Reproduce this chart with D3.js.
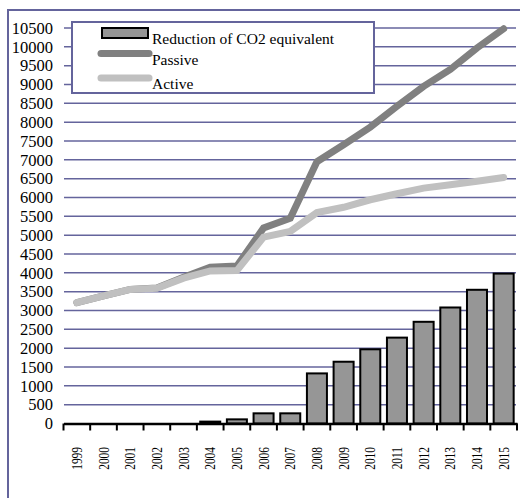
<!DOCTYPE html>
<html>
<head>
<meta charset="utf-8">
<script src="https://cdn.jsdelivr.net/npm/d3@7"></script>
<style>
  body { margin: 0; background: #fff; }
  text { font-family: "Liberation Serif", "Times New Roman", serif; fill: #000; }
</style>
</head>
<body>
<div id="graph"></div>
<script>
var years = ["1999","2000","2001","2002","2003","2004","2005","2006","2007","2008",
             "2009","2010","2011","2012","2013","2014","2015"];
var reduction = [0, 0, 0, 0, 0, 50, 110, 270, 270, 1330, 1640, 1970, 2280, 2700, 3080, 3550, 3980];
var passive = [3210, 3390, 3560, 3600, 3880, 4150, 4180, 5190, 5450, 6950, 7400, 7870, 8420, 8950, 9400, 9970, 10480];
var active = [3210, 3390, 3560, 3590, 3860, 4050, 4060, 4950, 5100, 5600, 5740, 5940, 6100, 6250, 6340, 6430, 6530];
var yTicks = d3.range(0, 10501, 500);
var legendLabels = ["Reduction of CO2 equivalent", "Passive", "Active"];

var W = 520, H = 498;
var frameColor = "#64649c";

var svg = d3.select("#graph").append("svg")
    .attr("width", W)
    .attr("height", H);

// outer frame
svg.append("rect")
    .attr("x", 8).attr("y", 10)
    .attr("width", W).attr("height", H)
    .attr("fill", "none")
    .attr("stroke", frameColor)
    .attr("stroke-width", 2);

var x = d3.scaleBand().domain(years).range([63.5, 517]).paddingInner(0.25).paddingOuter(0.125);
var xc = d3.scaleBand().domain(years).range([63.5, 517]);
var y = d3.scaleLinear().domain([0, 10500]).range([423.5, 28]);

// grid
svg.selectAll("line.grid")
    .data(yTicks.filter(function(d) { return d > 0; }))
    .enter().append("line")
    .attr("class", "grid")
    .attr("x1", 64).attr("x2", 516)
    .attr("y1", function(d) { return y(d); })
    .attr("y2", function(d) { return y(d); })
    .attr("stroke", frameColor)
    .attr("stroke-width", 1.5);

// y labels
svg.selectAll("text.ylab")
    .data(yTicks)
    .enter().append("text")
    .attr("class", "ylab")
    .attr("x", 53)
    .attr("y", function(d) { return y(d); })
    .attr("dy", "0.35em")
    .attr("text-anchor", "end")
    .style("font-size", "16.5px")
    .text(function(d) { return d; });

// bars
svg.selectAll(".bar")
    .data(years)
    .enter().append("rect")
    .attr("class", "bar")
    .attr("x", function(d) { return x(d); })
    .attr("width", x.bandwidth())
    .attr("y", function(d, i) { return y(reduction[i]); })
    .attr("height", function(d, i) { return y(0) - y(reduction[i]); })
    .attr("fill", "#969696")
    .attr("stroke", "#000")
    .attr("stroke-width", 2);

// x axis
var xAxis = d3.axisBottom(xc).tickSize(0).tickFormat("");
var gx = svg.append("g")
    .attr("transform", "translate(0," + y(0) + ")")
    .call(xAxis);
gx.select(".domain").attr("stroke", "#000").attr("stroke-width", 2.5);
gx.selectAll(".tick").remove();

svg.selectAll("line.xtick")
    .data(years.concat(["end"]))
    .enter().append("line")
    .attr("class", "xtick")
    .attr("x1", function(d, i) { return i < years.length ? xc(d) : xc.range()[1]; })
    .attr("x2", function(d, i) { return i < years.length ? xc(d) : xc.range()[1]; })
    .attr("y1", y(0))
    .attr("y2", y(0) + 7)
    .attr("stroke", "#000")
    .attr("stroke-width", 2);

svg.selectAll("text.xlab")
    .data(years)
    .enter().append("text")
    .attr("class", "xlab")
    .attr("transform", function(d) {
        return "translate(" + (xc(d) + xc.bandwidth() / 2 + 5) + "," + 447 + ") rotate(-90) scale(0.76,1)";
    })
    .attr("text-anchor", "end")
    .style("font-size", "15px")
    .text(function(d) { return d; });

// lines
var line = function(vals) {
    return d3.line()
        .x(function(d, i) { return xc(years[i]) + xc.bandwidth() / 2; })
        .y(function(d) { return y(d); })(vals);
};

svg.append("path")
    .attr("d", line(passive))
    .attr("fill", "none")
    .attr("stroke", "#808080")
    .attr("stroke-width", 7)
    .attr("stroke-linecap", "round");

svg.append("path")
    .attr("d", line(active))
    .attr("fill", "none")
    .attr("stroke", "#c0c0c0")
    .attr("stroke-width", 7)
    .attr("stroke-linecap", "round");

// legend
var lg = svg.append("g");
lg.append("rect")
    .attr("x", 72).attr("y", 22)
    .attr("width", 302).attr("height", 71)
    .attr("fill", "#fff")
    .attr("stroke", frameColor)
    .attr("stroke-width", 2);
lg.append("rect")
    .attr("x", 102).attr("y", 28)
    .attr("width", 46).attr("height", 10)
    .attr("fill", "#969696")
    .attr("stroke", "#000")
    .attr("stroke-width", 2);
lg.append("line")
    .attr("x1", 101).attr("x2", 149)
    .attr("y1", 53.5).attr("y2", 53.5)
    .attr("stroke", "#808080").attr("stroke-width", 7).attr("stroke-linecap", "round");
lg.append("line")
    .attr("x1", 101).attr("x2", 149)
    .attr("y1", 78).attr("y2", 78)
    .attr("stroke", "#c0c0c0").attr("stroke-width", 7).attr("stroke-linecap", "round");
lg.selectAll("text")
    .data(legendLabels)
    .enter().append("text")
    .attr("x", 152)
    .attr("y", function(d, i) { return [43.5, 65, 89][i]; })
    .style("font-size", "15.5px")
    .text(function(d) { return d; });
</script>
</body>
</html>
